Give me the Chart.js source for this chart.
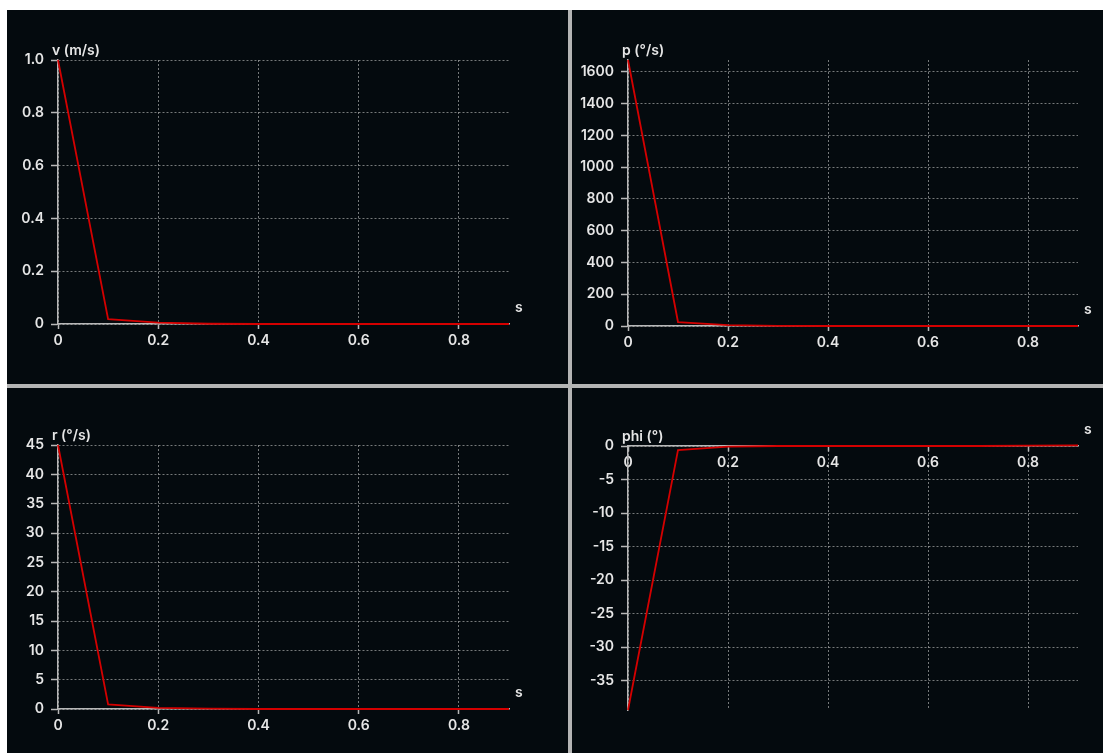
<!DOCTYPE html>
<html>
<head>
<meta charset="utf-8">
<title>Step response</title>
<script src="https://cdn.jsdelivr.net/npm/chart.js@4.4.0/dist/chart.umd.min.js"></script>
<style>
  html, body { margin: 0; padding: 0; background: #ffffff; }
  #panels {
    position: absolute;
    left: 7px;
    top: 10px;
    width: 1096px;
    height: 743px;
    background: #b4b4b4;
    display: grid;
    grid-template-columns: 561px 531px;
    grid-template-rows: 374px 365px;
    gap: 4px;
  }
  .panel { background: #040a0e; }
  .panel canvas { display: block; }
</style>
</head>
<body>
<div id="panels">
  <div class="panel"><canvas id="v-chart" width="561" height="374"></canvas></div>
  <div class="panel"><canvas id="p-chart" width="531" height="374"></canvas></div>
  <div class="panel"><canvas id="r-chart" width="561" height="365"></canvas></div>
  <div class="panel"><canvas id="phi-chart" width="531" height="365"></canvas></div>
</div>
<script>
// --- Data (time in seconds) ---
const timeS = [0, 0.1, 0.2, 0.3, 0.4, 0.5, 0.6, 0.7, 0.8, 0.9];
const vValues = [1.0, 0.018, 0.005, 0.001, 0, 0, 0, 0, 0, 0];
const pValues = [1675, 25, 6, 1, 0, 0, 0, 0, 0, 0];
const rValues = [45, 0.8, 0.2, 0.05, 0, 0, 0, 0, 0, 0];
const phiValues = [-39.4, -0.6, -0.1, 0, 0, 0, 0, 0, 0.05, 0.1];

const textColor = '#e6e6e6';
const fontFamily = 'Inter, "Noto Sans", "Liberation Sans", sans-serif';

// Tick text like "0", "0.2", "1.0"
function formatTick(value, step) {
    if (value === 0) return '0';
    return step < 1 ? value.toFixed(1) : String(value);
}

// Draws the axis names ("v (m/s)" at the top of the y axis, "s" at the end of the x axis)
const axisNamePlugin = {
    id: 'axisNames',
    afterDraw(chart, args, opts) {
        const { ctx, chartArea, scales } = chart;
        const zeroY = scales.y.getPixelForValue(0);
        ctx.save();
        ctx.font = '600 14px ' + fontFamily;
        ctx.fillStyle = textColor;
        ctx.textAlign = 'left';
        ctx.textBaseline = 'middle';
        ctx.fillText(opts.yName, chartArea.left - 6, chartArea.top - 9);
        ctx.fillText('s', chartArea.right + 6, zeroY - 16);
        ctx.restore();
    }
};

function renderPanel(panel) {
    const canvas = document.getElementById(panel.canvasId);
    if (!canvas) return;
    const W = canvas.width;
    const H = canvas.height;
    const area = panel.area;
    const xAtZero = panel.yMin < 0; // x axis crosses at y = 0 when values are negative
    const xHeight = 30;

    const gridOpts = {
        color: 'rgba(195, 195, 195, 0.6)',
        lineWidth: 1,
        tickColor: '#b8b8b8',
        tickWidth: 1.5,
        tickBorderDash: []
    };
    const borderOpts = { display: true, color: '#b8b8b8', width: 1.5, dash: [2, 2] };
    const tickFont = { family: fontFamily, size: 14, weight: '600' };

    new Chart(canvas.getContext('2d'), {
        type: 'line',
        data: {
            datasets: [{
                data: timeS.map((t, i) => ({ x: t, y: panel.values[i] })),
                borderColor: '#d40000',
                borderWidth: 1.8,
                pointRadius: 0,
                tension: 0,
                fill: false,
                clip: false
            }]
        },
        options: {
            responsive: false,
            animation: false,
            devicePixelRatio: 1,
            layout: {
                padding: {
                    left: 0,
                    top: area.top,
                    right: W - area.right,
                    bottom: xAtZero ? H - area.bottom : H - area.bottom - xHeight
                }
            },
            plugins: {
                legend: { display: false },
                tooltip: { enabled: false },
                axisNames: { yName: panel.name }
            },
            scales: {
                x: {
                    type: 'linear',
                    min: 0,
                    max: 0.9,
                    position: xAtZero ? { y: 0 } : 'bottom',
                    afterFit: scale => { scale.height = xHeight; },
                    grid: Object.assign({}, gridOpts, { tickLength: 5 }),
                    border: borderOpts,
                    ticks: {
                        stepSize: 0.2,
                        includeBounds: false,
                        maxRotation: 0,
                        autoSkip: false,
                        padding: 3,
                        color: textColor,
                        font: tickFont,
                        callback: value => formatTick(value, 0.2)
                    }
                },
                y: {
                    type: 'linear',
                    min: panel.yMin,
                    max: panel.yMax,
                    afterFit: scale => { scale.width = area.left; },
                    grid: Object.assign({}, gridOpts, { tickLength: 7 }),
                    border: borderOpts,
                    ticks: {
                        stepSize: panel.yStep,
                        includeBounds: false,
                        autoSkip: false,
                        padding: 7,
                        color: textColor,
                        font: tickFont,
                        callback: value => formatTick(value, panel.yStep)
                    }
                }
            }
        },
        plugins: [axisNamePlugin]
    });
}

document.addEventListener('DOMContentLoaded', function() {
    const panels = [
        { canvasId: 'v-chart', name: 'v (m/s)', values: vValues, yMin: 0, yMax: 1.0, yStep: 0.2,
          area: { left: 51, top: 50, right: 502, bottom: 314 } },
        { canvasId: 'p-chart', name: 'p (°/s)', values: pValues, yMin: 0, yMax: Math.max(...pValues), yStep: 200,
          area: { left: 56, top: 50, right: 506, bottom: 316 } },
        { canvasId: 'r-chart', name: 'r (°/s)', values: rValues, yMin: 0, yMax: 45, yStep: 5,
          area: { left: 51, top: 57, right: 502, bottom: 321 } },
        { canvasId: 'phi-chart', name: 'phi (°)', values: phiValues, yMin: Math.min(...phiValues), yMax: 0, yStep: 5,
          area: { left: 56, top: 58, right: 506, bottom: 322 } }
    ];
    panels.forEach(renderPanel);
});
</script>
</body>
</html>
